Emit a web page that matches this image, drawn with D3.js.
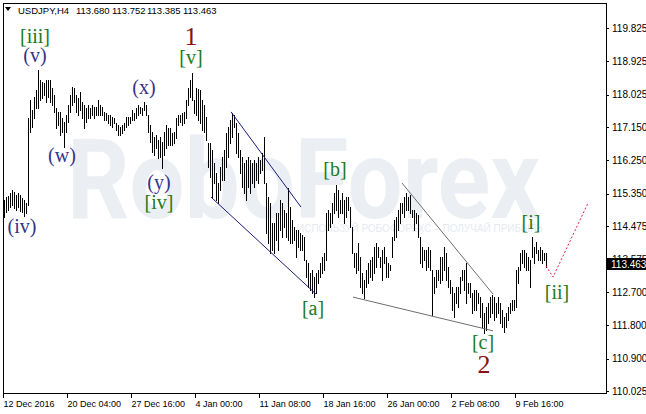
<!DOCTYPE html>
<html>

<head>
    <meta charset="utf-8">
    <title>USDJPY,H4</title>
    <script src="https://d3js.org/d3.v7.min.js"></script>
    <style>
        body {
            margin: 0;
            background: #fff;
        }

        svg text {
            font-family: "Liberation Sans", Arial, sans-serif;
        }

        .axis text {
            fill: #000;
        }

        .axis line {
            stroke: #000;
            shape-rendering: crispEdges;
        }

        .wave {
            font-family: "Liberation Serif", "Times New Roman", serif;
            text-anchor: middle;
        }
    </style>
</head>

<body>
    <div id="chart"></div>
    <script>
        // H4 bars (high / low of each bar, left to right)
        var highs = [
            115.18, 115.26, 115.29, 115.37, 115.45, 115.40, 115.32, 115.37, 115.32, 115.24,
            115.18, 115.10, 117.40, 117.88, 117.61, 117.96, 118.15, 118.69, 118.42, 118.37,
            118.34, 118.42, 118.42, 118.42, 118.21, 118.02, 117.67, 117.56, 117.56, 117.40,
            117.29, 117.48, 117.75, 118.02, 118.23, 118.21, 118.02, 117.94, 118.10, 117.83,
            117.75, 117.67, 117.75, 117.67, 117.75, 117.69, 117.69, 117.88, 117.75, 117.69,
            117.56, 117.53, 117.48, 117.48, 117.42, 117.40, 117.26, 117.21, 117.15, 117.21,
            117.26, 117.42, 117.42, 117.42, 117.61, 117.53, 117.67, 117.75, 117.69, 117.67,
            117.83, 117.75, 117.48, 117.21, 117.02, 116.88, 116.94, 116.80, 116.88, 116.75,
            117.02, 117.21, 117.13, 117.13, 116.99, 117.02, 117.40, 117.48, 117.48, 117.53,
            117.56, 117.88, 118.21, 118.42, 118.61, 117.88, 118.21, 118.18, 118.15, 117.88,
            117.75, 117.42, 116.72, 116.72, 116.53, 116.18, 115.91, 115.64, 116.07, 116.34,
            116.53, 116.99, 117.15, 117.34, 117.53, 117.48, 117.26, 116.99, 116.53, 116.34,
            116.18, 116.26, 116.34, 116.26, 116.18, 116.26, 116.18, 116.34, 116.26, 116.45,
            116.88, 115.64, 115.26, 115.10, 114.56, 114.56, 114.83, 114.83, 115.18, 115.10,
            114.91, 114.83, 115.51, 114.99, 114.64, 114.45, 114.37, 114.37, 114.29, 114.24,
            114.18, 113.56, 113.48, 113.21, 113.29, 113.10, 113.21, 113.29, 113.48, 113.64,
            113.75, 114.83, 114.91, 114.83, 115.10, 115.37, 115.59, 115.45, 115.18, 115.37,
            115.18, 115.26, 115.26, 114.99, 114.45, 113.75, 113.75, 114.02, 113.64, 113.21,
            113.02, 113.29, 113.48, 113.56, 113.64, 113.91, 114.02, 113.91, 113.64, 113.83,
            113.91, 113.64, 113.48, 113.43, 114.18, 114.64, 114.72, 114.91, 115.10, 115.10,
            115.26, 115.37, 115.26, 115.32, 114.91, 114.91, 114.83, 114.78, 114.18, 113.91,
            113.83, 113.83, 113.91, 113.83, 113.29, 113.10, 113.29, 113.29, 113.64, 113.64,
            113.91, 113.75, 113.37, 113.02, 112.83, 112.67, 112.83, 112.83, 113.10, 113.29,
            113.29, 113.48, 112.94, 112.94, 112.67, 112.75, 112.75, 112.67, 112.56, 112.40,
            112.13, 112.29, 112.40, 112.56, 112.62, 112.56, 112.40, 112.56, 112.40, 112.21,
            112.02, 112.13, 112.29, 112.40, 112.48, 112.48, 113.29, 113.37, 113.75, 113.83,
            113.83, 113.75, 113.64, 113.56, 114.18, 113.91, 114.05, 113.83, 113.91, 113.83,
            113.75, 113.752
        ];
        var lows = [
            114.72, 114.86, 114.91, 114.99, 115.05, 114.97, 114.91, 114.99, 114.89, 114.86,
            114.75, 114.83, 115.05, 117.02, 117.15, 117.40, 117.67, 117.67, 117.88, 117.94,
            118.02, 117.83, 117.96, 117.83, 117.75, 117.56, 117.13, 117.21, 116.94, 117.02,
            116.61, 117.02, 117.29, 117.56, 117.75, 117.83, 117.56, 117.48, 117.61, 117.40,
            117.13, 117.29, 117.40, 117.40, 117.48, 117.40, 117.48, 117.48, 117.48, 117.48,
            117.34, 117.34, 117.26, 117.21, 117.15, 117.26, 117.07, 116.94, 116.94, 116.99,
            117.07, 117.15, 117.21, 117.26, 117.34, 117.34, 117.40, 117.48, 117.53, 117.48,
            117.61, 117.48, 117.02, 116.75, 116.48, 116.40, 116.59, 116.32, 116.34, 116.05,
            116.40, 116.59, 116.67, 116.67, 116.67, 116.72, 116.86, 117.21, 117.29, 117.21,
            117.26, 117.40, 117.75, 117.96, 117.88, 117.53, 117.48, 117.34, 117.26, 117.07,
            117.02, 116.80, 116.07, 115.80, 115.26, 115.64, 115.18, 115.10, 115.45, 115.72,
            115.72, 116.07, 116.34, 116.72, 116.88, 117.15, 116.45, 116.34, 115.91, 115.53,
            115.37, 115.18, 115.53, 115.37, 115.64, 115.53, 115.72, 115.64, 115.91, 115.99,
            115.64, 114.29, 114.02, 113.75, 113.83, 113.75, 114.10, 113.83, 114.37, 114.18,
            114.45, 114.18, 114.10, 114.02, 114.02, 114.10, 113.64, 113.91, 113.83, 113.83,
            113.56, 113.10, 112.83, 112.75, 112.67, 112.56, 112.67, 112.94, 113.10, 113.21,
            113.29, 113.56, 114.37, 114.45, 114.56, 114.83, 114.91, 114.72, 114.83, 114.83,
            114.56, 114.72, 114.91, 114.45, 113.75, 113.37, 113.21, 113.29, 112.83, 112.67,
            112.54, 112.83, 112.94, 113.10, 113.02, 113.21, 113.37, 113.64, 113.37, 113.02,
            113.48, 113.10, 113.10, 113.29, 113.64, 114.10, 114.18, 114.37, 114.56, 114.83,
            114.72, 114.91, 114.91, 114.83, 114.72, 114.37, 114.56, 114.18, 113.48, 113.37,
            113.56, 113.29, 113.37, 113.29, 112.08, 112.67, 112.83, 113.02, 112.94, 113.02,
            113.29, 113.02, 112.83, 112.67, 112.21, 112.02, 112.40, 112.29, 112.67, 113.02,
            112.75, 112.40, 112.67, 112.56, 112.13, 112.21, 112.21, 112.40, 112.02, 111.75,
            111.59, 111.67, 111.86, 112.02, 112.13, 111.94, 112.02, 112.13, 111.86, 111.75,
            111.62, 111.75, 111.94, 112.13, 112.21, 112.21, 112.29, 112.94, 113.29, 113.48,
            113.37, 113.29, 113.29, 112.83, 113.64, 113.48, 113.75, 113.56, 113.56, 113.48,
            113.56, 113.385
        ];

        var lastBar = { open: 113.680, high: 113.752, low: 113.385, close: 113.463 };

        var priceTicks = [119.825, 118.925, 118.025, 117.150, 116.250, 115.350, 114.475, 113.575, 112.700, 111.800, 110.900, 110.025];
        var dateTickBars = [0, 32, 64, 96, 128, 160, 192, 224, 256];
        var dateLabels = ["12 Dec 2016", "20 Dec 04:00", "27 Dec 16:00", "4 Jan 00:00", "11 Jan 08:00",
            "18 Jan 16:00", "26 Jan 00:00", "2 Feb 08:00", "9 Feb 16:00"];

        // trend lines: [bar, price] -> [bar, price]
        var channelLines = [
            [[113.5, 117.56], [148.5, 114.99]],
            [[103.5, 115.26], [156, 112.64]]
        ];
        var wedgeLines = [
            [[199, 115.64], [244.5, 112.64]],
            [[174.5, 112.56], [244.5, 111.65]]
        ];
        var forecast = [[271, 113.40], [274.5, 113.10], [292, 115.10]];

        // wave marks: text, bar, price (baseline)
        var waveGreen = [
            ["[iii]", 15.5, 119.41], ["[v]", 93.5, 118.84], ["[iv]", 77.5, 114.93],
            ["[b]", 165.5, 115.82], ["[a]", 154.5, 112.09], ["[c]", 239.5, 111.15],
            ["[i]", 263.5, 114.39], ["[ii]", 276.5, 112.52]
        ];
        var waveBlue = [
            ["(v)", 15.5, 118.92], ["(x)", 70, 118.03], ["(w)", 29, 116.22],
            ["(y)", 77.5, 115.49], ["(iv)", 9, 114.28]
        ];
        var waveRed = [["1", 93.5, 119.37], ["2", 240, 110.51]];

        function drawChart() {
            var W = 646, H = 414;
            var svg = d3.select('#chart').append('svg').attr('width', W).attr('height', H);

            var x = d3.scaleLinear().domain([0, 301]).range([4, 606]);
            var y = d3.scaleLinear().domain([110.025, 119.825]).range([391, 28]);

            // watermark
            svg.append('text')
                .attr('x', 67).attr('y', 218)
                .attr('textLength', 473).attr('lengthAdjust', 'spacingAndGlyphs')
                .style('font-family', 'Roboto, "Liberation Sans", sans-serif')
                .style('font-size', '112px')
                .style('font-weight', 'bold')
                .attr('fill', '#ebeff4')
                .text('RoboForex');
            svg.append('text')
                .attr('x', 297).attr('y', 232)
                .attr('textLength', 246).attr('lengthAdjust', 'spacingAndGlyphs')
                .style('font-size', '11px')
                .attr('fill', '#e6eaf0')
                .text('ИСПОЛЬЗУЙ РОБОФОРЕКС – ПОЛУЧАЙ ПРИБЫЛЬ');

            // bars
            svg.append('g').attr('class', 'bars')
                .selectAll('line')
                .data(highs)
                .join('line')
                .attr('x1', function (d, i) { return Math.round(x(i)) + 0.5; })
                .attr('x2', function (d, i) { return Math.round(x(i)) + 0.5; })
                .attr('y1', function (d) { return Math.round(y(d)); })
                .attr('y2', function (d, i) { return Math.round(y(lows[i])) + 1; })
                .attr('stroke', '#000')
                .attr('stroke-width', 1)
                .style('shape-rendering', 'crispEdges');

            var line = d3.line()
                .x(function (p) { return x(p[0]); })
                .y(function (p) { return y(p[1]); });

            svg.append('g').selectAll('path')
                .data(channelLines)
                .join('path')
                .attr('d', line)
                .attr('fill', 'none')
                .attr('stroke', '#1c1c7a')
                .attr('stroke-width', 1);

            svg.append('g').selectAll('path')
                .data(wedgeLines)
                .join('path')
                .attr('d', line)
                .attr('fill', 'none')
                .attr('stroke', '#6e6e6e')
                .attr('stroke-width', 1);

            svg.append('path')
                .attr('d', line(forecast))
                .attr('fill', 'none')
                .attr('stroke', '#e8204f')
                .attr('stroke-width', 1)
                .attr('stroke-dasharray', '2,2');

            // wave labels
            function waves(list, color, size) {
                svg.append('g').selectAll('text')
                    .data(list)
                    .join('text')
                    .attr('class', 'wave')
                    .attr('x', function (d) { return x(d[1]); })
                    .attr('y', function (d) { return y(d[2]); })
                    .attr('fill', color)
                    .style('font-size', size)
                    .text(function (d) { return d[0]; });
            }
            waves(waveGreen, '#217a21', '20px');
            waves(waveBlue, '#34348c', '20px');
            waves(waveRed, '#8b1010', '26px');

            // frame
            svg.append('rect')
                .attr('x', 3.5).attr('y', 3.5)
                .attr('width', 603).attr('height', 390)
                .attr('fill', 'none').attr('stroke', '#000')
                .style('shape-rendering', 'crispEdges');

            // price axis
            var yAxis = svg.append('g').attr('class', 'axis')
                .attr('transform', 'translate(606,0)')
                .call(d3.axisRight(y).tickValues(priceTicks).tickSize(3).tickPadding(3)
                    .tickFormat(d3.format('.3f')));
            yAxis.select('.domain').remove();
            yAxis.selectAll('text').style('font-size', '10px');

            // time axis
            var xAxis = svg.append('g').attr('class', 'axis')
                .attr('transform', 'translate(-1,394)')
                .call(d3.axisBottom(x).tickValues(dateTickBars).tickSize(4).tickPadding(3)
                    .tickFormat(function (d, i) { return dateLabels[i]; }));
            xAxis.select('.domain').remove();
            xAxis.selectAll('text').style('font-size', '9px').attr('text-anchor', 'start').attr('x', 0);

            // current price box
            var cy = Math.round(y(lastBar.close));
            svg.append('rect')
                .attr('x', 607).attr('y', cy - 6)
                .attr('width', 39).attr('height', 12)
                .attr('fill', '#000');
            svg.append('text')
                .attr('x', 611).attr('y', cy + 4)
                .attr('fill', '#fff')
                .style('font-size', '10px')
                .text(d3.format('.3f')(lastBar.close));

            // title
            svg.append('path')
                .attr('d', 'M5,7 L11,7 L8,11 Z')
                .attr('fill', '#000');
            var titleParts = ['USDJPY,H4', lastBar.open, lastBar.high, lastBar.low, lastBar.close];
            var titleX = [18, 76, 112, 147, 183];
            svg.append('g').selectAll('text')
                .data(titleParts)
                .join('text')
                .attr('x', function (d, i) { return titleX[i]; })
                .attr('y', 14)
                .style('font-size', '9.5px')
                .attr('fill', '#000')
                .text(function (d, i) { return i == 0 ? d : d3.format('.3f')(d); });
        }

        drawChart();
    </script>
</body>

</html>
